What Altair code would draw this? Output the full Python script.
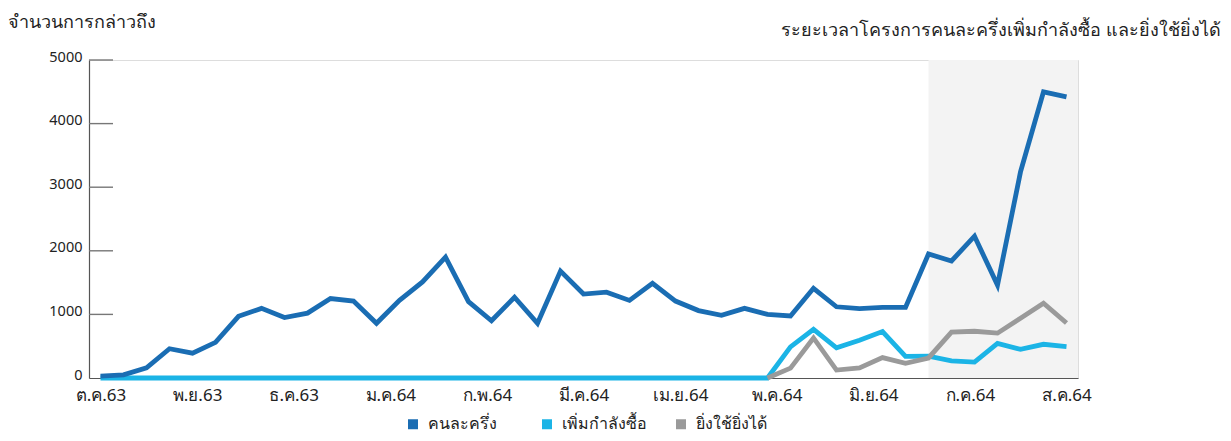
import altair as alt
import pandas as pd

FONT = "Noto Sans"

# ---- data -------------------------------------------------------------
week_index = list(range(43))

series_names = ["คนละครึ่ง", "เพิ่มกำลังซื้อ", "ยิ่งใช้ยิ่งได้"]
series_colors = ["#1a6db3", "#1bb4e6", "#9a9a9a"]

khon_la_khrueng = [30, 50, 160, 460, 390, 560, 970, 1095, 950, 1020,
                   1250, 1210, 860, 1220, 1510, 1900, 1200, 900, 1270, 860,
                   1680, 1320, 1350, 1220, 1490, 1210, 1060, 985, 1095, 1000,
                   975, 1410, 1120, 1090, 1110, 1110, 1950, 1840, 2230, 1460,
                   3240, 4500, 4420]

phoem_kamlang_sue = [0, 0, 0, 0, 0, 0, 0, 0, 0, 0,
                     0, 0, 0, 0, 0, 0, 0, 0, 0, 0,
                     0, 0, 0, 0, 0, 0, 0, 0, 0, 0,
                     490, 765, 475, 595, 730, 340, 345, 270, 250, 545,
                     450, 530, 495]

ying_chai_ying_dai = [None, None, None, None, None, None, None, None, None, None,
                      None, None, None, None, None, None, None, None, None, None,
                      None, None, None, None, None, None, None, None, None, 0,
                      155, 630, 125, 160, 320, 230, 315, 720, 735, 705,
                      940, 1175, 865]

month_labels = ["ต.ค.63", "พ.ย.63", "ธ.ค.63", "ม.ค.64", "ก.พ.64", "มี.ค.64",
                "เม.ย.64", "พ.ค.64", "มิ.ย.64", "ก.ค.64", "ส.ค.64"]
month_positions = [0, 4.2, 8.4, 12.6, 16.8, 21.0, 25.2, 29.4, 33.6, 37.8, 42]

y_tick_values = [0, 1000, 2000, 3000, 4000, 5000]

shade_start = [36]
shade_end = [42.5]

y_title = "จำนวนการกล่าวถึง"
annotation = "ระยะเวลาโครงการคนละครึ่งเพิ่มกำลังซื้อ และยิ่งใช้ยิ่งได้"

# ---- tables -----------------------------------------------------------
rows = []
for name, vals in zip(series_names, [khon_la_khrueng, phoem_kamlang_sue, ying_chai_ying_dai]):
    for i, v in zip(week_index, vals):
        if v is not None:
            rows.append({"week": i, "value": v, "series": name})
df = pd.DataFrame(rows)
shade_df = pd.DataFrame({"start": shade_start, "end": shade_end})
ticks_df = pd.DataFrame({"v": [v for v in y_tick_values if v > 0]})

W, H = 989, 318
x_scale = alt.Scale(domain=[-0.5, 42.5], nice=False, zero=False)
y_scale = alt.Scale(domain=[0, 5000], nice=False)
color_scale = alt.Scale(domain=series_names, range=series_colors)

label_expr = "[" + ",".join("'" + m + "'" for m in month_labels) + "][indexof([" + \
    ",".join(str(p) for p in month_positions) + "], datum.value)]"

x_axis = alt.Axis(values=month_positions, labelExpr=label_expr, grid=False, ticks=False,
                  domainColor="#555555", domainWidth=1.2, labelFontSize=17,
                  labelColor="#222222", labelPadding=9, labelFont=FONT,
                  labelOverlap=False, labelFlush=False, title=None)
y_axis = alt.Axis(values=y_tick_values, format="d", grid=False, ticks=False,
                  domainColor="#555555", domainWidth=1.2, labelFontSize=14.5,
                  labelColor="#222222", labelPadding=7, labelFont=FONT,
                  labelOffset=-3, title=None)

shade = alt.Chart(shade_df).mark_rect(color="#f3f3f3").encode(
    x=alt.X("start:Q", scale=x_scale, title=None),
    x2="end:Q",
    y=alt.value(0),
    y2=alt.value(H),
)

tick_rules = alt.Chart(ticks_df).mark_rule(color="#777777", strokeWidth=1.4).encode(
    y=alt.Y("v:Q", scale=y_scale, title=None),
    x=alt.value(0),
    x2=alt.value(24),
)

legend = alt.Legend(orient="none", direction="horizontal", legendX=316, legendY=356,
                    title=None, symbolType="square", symbolSize=9, symbolStrokeWidth=7,
                    labelFontSize=16, labelFont=FONT, labelColor="#222222",
                    columns=3, gridAlign="all", columnPadding=18,
                    labelOffset=7, labelLimit=0)


def series_layer(name):
    return alt.Chart(df).transform_filter(alt.datum.series == name).mark_line(
        strokeWidth=4.8, strokeJoin="miter", strokeCap="butt"
    ).encode(
        x=alt.X("week:Q", scale=x_scale, axis=x_axis),
        y=alt.Y("value:Q", scale=y_scale, axis=y_axis),
        color=alt.Color("series:N", scale=color_scale, legend=legend),
    )


lines = [series_layer(series_names[1]), series_layer(series_names[2]), series_layer(series_names[0])]

title_text = alt.Chart(pd.DataFrame({"t": [y_title]})).mark_text(
    align="left", baseline="middle", fontSize=18, font=FONT, color="#222222"
).encode(text="t:N", x=alt.value(-81), y=alt.value(-37))

annot_text = alt.Chart(pd.DataFrame({"t": [annotation]})).mark_text(
    align="right", baseline="middle", fontSize=18, font=FONT, color="#222222"
).encode(text="t:N", x=alt.value(1132), y=alt.value(-29))

chart = alt.layer(shade, tick_rules, *lines, title_text, annot_text).properties(
    width=W, height=H,
    autosize=alt.AutoSizeParams(type="none"),
    padding={"left": 81, "top": 52, "right": 145, "bottom": 55},
).configure_view(stroke=None).configure(background="white")

chart.save("out.html", embed_options={"renderer": "svg", "actions": False})
